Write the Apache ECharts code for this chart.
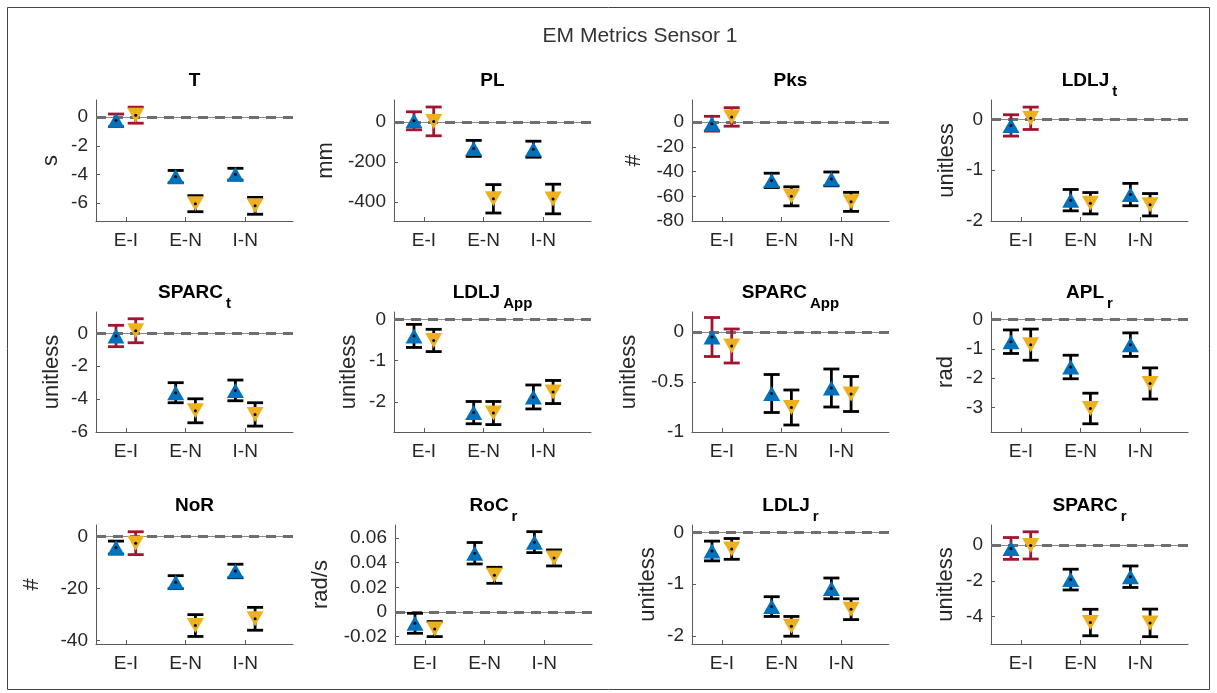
<!DOCTYPE html>
<html>
<head>
<meta charset="utf-8">
<script src="https://cdn.jsdelivr.net/npm/echarts@6/dist/echarts.min.js"></script>
<style>html,body{margin:0;padding:0;background:#fff}#main{width:1217px;height:693px}</style>
</head>
<body>
<div id="main"></div>
<script>
// categories and metrics
var categories = ['E-I', 'E-N', 'I-N'];
var metricNames = ['T', 'PL', 'Pks', 'LDLJ', 'SPARC', 'LDLJ', 'SPARC', 'APL', 'NoR', 'RoC', 'LDLJ', 'SPARC'];
var metricSubs = ['', '', '', 't', 't', 'App', 'App', 'r', '', 'r', 'r', 'r'];
var units = ['s', 'mm', '#', 'unitless', 'unitless', 'unitless', 'unitless', 'rad', '#', 'rad/s', 'unitless', 'unitless'];

// y axis ranges and tick labels
var yMin = [-7.25, -495, -80, -2, -6, -2.73, -1, -3.83, -41.3, -0.026, -2.15, -5.53];
var yMax = [1.2, 110, 18, 0.38, 1.3, 0.18, 0.2, 0.25, 4.5, 0.0705, 0.14, 1.12];
var yTicks = [
  [-6, -4, -2, 0], [-400, -200, 0], [-80, -60, -40, -20, 0], [-2, -1, 0],
  [-6, -4, -2, 0], [-2, -1, 0], [-1, -0.5, 0], [-3, -2, -1, 0],
  [-40, -20, 0], [-0.02, 0, 0.02, 0.04, 0.06], [-2, -1, 0], [-4, -2, 0]
];

// blue (up triangle) means and CI half widths, per metric: E-I, E-N, I-N
var blueMean = [
  [-0.22, -4.15, -3.98], [6, -132, -136], [-1.2, -47.1, -45.9], [-0.12, -1.59, -1.48],
  [-0.16, -3.61, -3.47], [-0.4, -2.26, -1.88], [-0.05, -0.615, -0.56], [-0.76, -1.62, -0.86],
  [-4.2, -17.5, -13.2], [-0.0092, 0.0476, 0.0566], [-0.36, -1.43, -1.08], [-0.19, -1.93, -1.77]
];
var blueErr = [
  [0.44, 0.43, 0.41], [45, 40, 40], [6, 5.8, 5.6], [0.21, 0.21, 0.22],
  [0.65, 0.61, 0.63], [0.28, 0.27, 0.29], [0.195, 0.19, 0.19], [0.4, 0.4, 0.4],
  [2.5, 2.5, 2.6], [0.0081, 0.0087, 0.0085], [0.19, 0.19, 0.2], [0.61, 0.58, 0.6]
];
// yellow (down triangle) means and CI half widths
var yellowMean = [
  [0.14, -6.04, -6.19], [3, -384, -385], [4.3, -60, -64.5], [0.02, -1.65, -1.68],
  [0.16, -4.71, -4.93], [-0.51, -2.27, -1.76], [-0.14, -0.755, -0.62], [-0.86, -3.03, -2.18],
  [-2.5, -34.2, -31.6], [-0.0139, 0.0297, 0.0438], [-0.32, -1.81, -1.48], [-0.02, -4.33, -4.35]
];
var yellowErr = [
  [0.56, 0.56, 0.59], [72, 71, 74], [7.5, 7.7, 7.7], [0.22, 0.21, 0.22],
  [0.73, 0.73, 0.71], [0.27, 0.28, 0.28], [0.17, 0.175, 0.175], [0.53, 0.52, 0.53],
  [4.4, 4.2, 4.4], [0.0061, 0.0065, 0.0065], [0.2, 0.19, 0.2], [0.76, 0.74, 0.77]
];

// layout
var colLeft = [96, 394, 692, 991];
var rowTop = [100, 312, 525];
var rowHeight = [121, 120, 119];
var plotWidth = 197;
var nameGaps = [34, 57, 47, 33, 33, 34, 52, 34, 53, 63, 33, 34];
var offset = 0.165;

var FONT = 'Arial, "Liberation Sans", sans-serif';
var BLUE = '#0072BD', YELLOW = '#EDB120', RED = '#A2142F';
var AXIS = '#5a5a5a', TEXT = '#262626';

function renderErr(params, api) {
  var x = api.value(0), lo = api.value(1), hi = api.value(2);
  var top = api.coord([x, hi]);
  var bot = api.coord([x, lo]);
  var color = (lo <= 0 && hi >= 0) ? RED : '#000000';
  var hw = 8;
  var st = {stroke: color, lineWidth: 2.8};
  return {
    type: 'group',
    children: [
      {type: 'line', shape: {x1: top[0], y1: top[1], x2: bot[0], y2: bot[1]}, style: st},
      {type: 'line', shape: {x1: top[0] - hw, y1: top[1], x2: top[0] + hw, y2: top[1]}, style: st},
      {type: 'line', shape: {x1: bot[0] - hw, y1: bot[1], x2: bot[0] + hw, y2: bot[1]}, style: st}
    ]
  };
}

var grids = [], xAxes = [], yAxes = [], series = [];
var titles = [{
  text: 'EM Metrics Sensor 1',
  left: 640, top: 26, textAlign: 'center', padding: 0,
  textStyle: {fontFamily: FONT, fontSize: 21, fontWeight: 'normal', color: '#333'}
}];

for (var i = 0; i < 12; i++) {
  var r = Math.floor(i / 4), c = i % 4;
  var left = colLeft[c] + (i === 9 ? 1 : 0);
  grids.push({left: left, top: rowTop[r], width: plotWidth, height: rowHeight[r], containLabel: false});

  var txt = metricSubs[i] ? '{a|' + metricNames[i] + '}{b|' + metricSubs[i] + '}' : '{a|' + metricNames[i] + '}';
  titles.push({
    text: txt,
    left: left + plotWidth / 2, top: rowTop[r] - 29, textAlign: 'center', padding: 0,
    textStyle: {
      rich: {
        a: {fontFamily: FONT, fontSize: 19, fontWeight: 'bold', color: '#000', lineHeight: 22, verticalAlign: 'top'},
        b: {fontFamily: FONT, fontSize: 15, fontWeight: 'bold', color: '#000', lineHeight: 42, padding: [0, 0, 0, 3]}
      }
    }
  });

  xAxes.push({
    gridIndex: i, type: 'value', min: 0.5, max: 3.8,
    axisLine: {show: true, onZero: false, lineStyle: {color: AXIS, width: 1}},
    axisTick: {show: true, inside: true, length: 4, customValues: [1, 2, 3], lineStyle: {color: AXIS}},
    axisLabel: {
      customValues: [1, 2, 3], margin: 10, color: TEXT, fontFamily: FONT, fontSize: 19,
      formatter: function (v) { return categories[Math.round(v) - 1]; }
    },
    splitLine: {show: false}
  });

  yAxes.push({
    gridIndex: i, type: 'value', min: yMin[i], max: yMax[i],
    name: units[i], nameLocation: 'middle', nameRotate: 90, nameGap: nameGaps[i],
    nameTextStyle: {fontFamily: FONT, fontSize: 22, color: TEXT},
    axisLine: {show: true, onZero: false, lineStyle: {color: AXIS, width: 1}},
    axisTick: {show: true, inside: true, length: 4, customValues: yTicks[i], lineStyle: {color: AXIS}},
    axisLabel: {customValues: yTicks[i], margin: 8, color: TEXT, fontFamily: FONT, fontSize: 19},
    splitLine: {show: false}
  });

  var errData = [], bluePts = [], yellowPts = [], dots = [];
  for (var k = 0; k < 3; k++) {
    var xb = k + 1 - offset, xy = k + 1 + offset;
    var bm = blueMean[i][k], be = blueErr[i][k];
    var ym = yellowMean[i][k], ye = yellowErr[i][k];
    errData.push([xb, bm - be, bm + be]);
    errData.push([xy, ym - ye, ym + ye]);
    bluePts.push([xb, bm]);
    yellowPts.push([xy, ym]);
    dots.push([xb, bm], [xy, ym]);
  }

  // zero reference line
  series.push({
    type: 'line', xAxisIndex: i, yAxisIndex: i, data: [], silent: true, z: 1,
    markLine: {
      silent: true, z: 1, symbol: ['none', 'none'], label: {show: false}, animation: false,
      data: [
        {yAxis: 0, lineStyle: {type: 'solid', width: 1, color: '#8a8a8a'}},
        {yAxis: 0, lineStyle: {type: [10, 7], width: 3, color: '#6e6e6e'}}
      ]
    }
  });
  series.push({
    type: 'custom', xAxisIndex: i, yAxisIndex: i, renderItem: renderErr,
    encode: {x: 0, y: [1, 2]}, data: errData, z: 2, silent: true
  });
  series.push({
    type: 'scatter', xAxisIndex: i, yAxisIndex: i, data: bluePts, z: 3, silent: true,
    symbol: 'triangle', symbolSize: [17, 15], itemStyle: {color: BLUE, opacity: 1}
  });
  series.push({
    type: 'scatter', xAxisIndex: i, yAxisIndex: i, data: yellowPts, z: 3, silent: true,
    symbol: 'triangle', symbolRotate: 180, symbolSize: [17, 15], itemStyle: {color: YELLOW, opacity: 1}
  });
  series.push({
    type: 'scatter', xAxisIndex: i, yAxisIndex: i, data: dots, z: 4, silent: true,
    symbol: 'circle', symbolSize: 3, itemStyle: {color: '#000', opacity: 1}
  });
}

var myChart = echarts.init(document.getElementById('main'));
myChart.setOption({
  backgroundColor: '#fff',
  animation: false,
  title: titles,
  grid: grids,
  xAxis: xAxes,
  yAxis: yAxes,
  series: series,
  graphic: [{
    type: 'rect', silent: true,
    shape: {x: 7.5, y: 7.5, width: 1202, height: 682},
    style: {fill: 'none', stroke: '#444', lineWidth: 1}
  }]
});
</script>
</body>
</html>
